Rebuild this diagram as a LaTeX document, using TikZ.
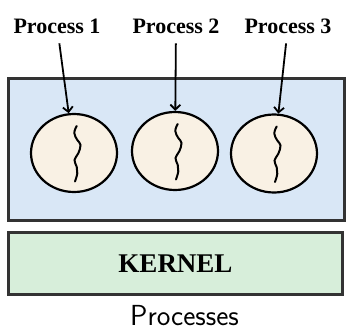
\documentclass[tikz,border=0pt]{standalone}
\usepackage{fontspec}
\setmainfont{Liberation Serif}
\usepackage{tikz}
\usetikzlibrary{arrows.meta}
\usetikzlibrary{shapes.geometric}
\usetikzlibrary{calc}

\definecolor{userblue}{HTML}{D9E7F6}
\definecolor{procbeige}{HTML}{F9F1E4}
\definecolor{kernelgreen}{HTML}{D7EEDA}

\tikzset{
  lbl/.style={font=\fontsize{22}{24}\selectfont\bfseries,inner sep=1pt},
  proc/.style={draw=black,line width=2.2pt,fill=procbeige,ellipse,minimum width=86pt,minimum height=78pt,inner sep=0pt},
  area/.style={draw=black!80,line width=2.2pt,rectangle,inner sep=0pt},
  thread/.style={line width=2pt,line cap=round},
}

\begin{document}
\begin{tikzpicture}[x=1pt,y=-1pt,>={Straight Barb[length=5pt,width=10pt]}]
\useasboundingbox (0,0) rectangle (359,332);
\node [area,fill=userblue,minimum width=336pt,minimum height=142pt] (U) at (176.5,149.5) {};
\node [area,fill=kernelgreen,minimum width=334pt,minimum height=62pt,font=\fontsize{27}{30}\selectfont\bfseries] (K) at (175.5,263.5) {KERNEL};
\node [font=\sffamily\fontsize{29}{32}\selectfont] (cap) at (184.5,316) {Processes};
\node [proc] (T1) at (74,153) {};
\node [proc] (T2) at (175,151) {};
\node [proc] (T3) at (274,153.5) {};
\node [lbl,anchor=base] (P1) at (57,33) {Process 1};
\node [lbl,anchor=base] (P2) at (176,33) {Process 2};
\node [lbl,anchor=base] (P3) at (288,33) {Process 3};
\foreach \n in {1,2,3}{
  \draw [->,line width=1.8pt,shorten <=9pt] (P\n) -- (T\n);
  \draw [thread,shift={(T\n.center)}] plot [smooth,tension=.7] coordinates
    {(2.7,-27) (0.3,-20) (3.3,-13) (6.5,-8) (4.3,0.3) (0.5,7) (2.7,13.7) (3.3,20.3) (1,28.5)};
}
\end{tikzpicture}
\end{document}
